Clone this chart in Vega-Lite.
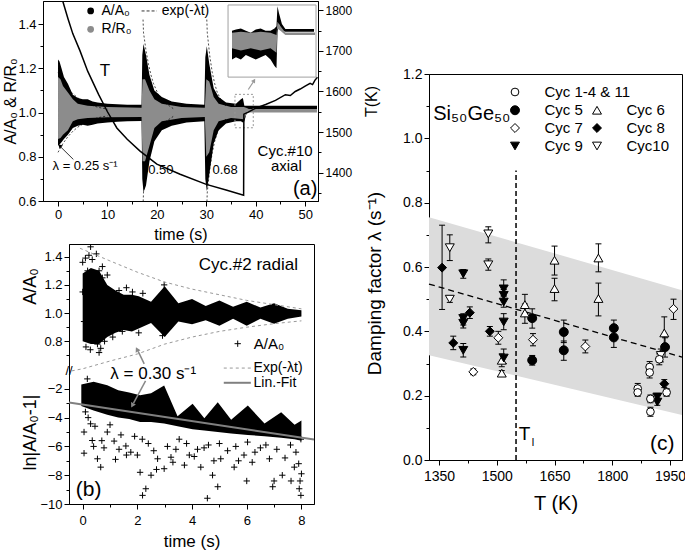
{
"$schema": "https://vega.github.io/schema/vega-lite/v6.json",
"padding": {"left": 1, "top": 0, "right": 0, "bottom": 0},
"background": "white",
"config": {
  "font": "Liberation Sans",
  "view": {"stroke": "black", "strokeWidth": 1},
  "axis": {"grid": false, "domainColor": "black", "tickColor": "black", "labelColor": "black", "titleColor": "black", "labelFont": "Liberation Sans", "titleFont": "Liberation Sans", "titleFontWeight": "normal", "labelFontSize": 13, "titleFontSize": 16, "tickSize": 4, "labelPadding": 2, "labelFlush": false, "labelOverlap": false, "domainWidth": 1, "tickWidth": 1},
  "legend": {"labelFont": "Liberation Sans"},
  "text": {"font": "Liberation Sans"}
},
"datasets": {
  "a_black": [
    {"t":0,"lo":0.85,"hi":1.24},{"t":0.3,"lo":0.855,"hi":1.23},{"t":0.7,"lo":0.865,"hi":1.2},{"t":1.2,"lo":0.88,"hi":1.16},{"t":2,"lo":0.9,"hi":1.13},{"t":3,"lo":0.93,"hi":1.08},{"t":4,"lo":0.94,"hi":1.065},{"t":5,"lo":0.945,"hi":1.06},{"t":6,"lo":0.94,"hi":1.06},{"t":7,"lo":0.945,"hi":1.05},{"t":8,"lo":0.95,"hi":1.045},{"t":10,"lo":0.955,"hi":1.04},{"t":12,"lo":0.958,"hi":1.037},{"t":14,"lo":0.96,"hi":1.035},{"t":16.9,"lo":0.962,"hi":1.035},
    {"t":17.05,"lo":0.7,"hi":1.26},{"t":17.3,"lo":0.64,"hi":1.31},{"t":17.8,"lo":0.67,"hi":1.26},{"t":18.5,"lo":0.78,"hi":1.17},{"t":19.5,"lo":0.87,"hi":1.1},{"t":21,"lo":0.92,"hi":1.07},{"t":23,"lo":0.94,"hi":1.05},{"t":26,"lo":0.955,"hi":1.04},{"t":29.6,"lo":0.96,"hi":1.035},
    {"t":29.8,"lo":0.7,"hi":1.25},{"t":30.1,"lo":0.645,"hi":1.3},{"t":30.6,"lo":0.72,"hi":1.22},{"t":31.5,"lo":0.86,"hi":1.11},{"t":32.5,"lo":0.92,"hi":1.07},{"t":34,"lo":0.95,"hi":1.045},{"t":36,"lo":0.96,"hi":1.04},{"t":37,"lo":0.96,"hi":1.06},{"t":37.4,"lo":0.955,"hi":1.065},{"t":37.7,"lo":0.96,"hi":1.03},{"t":38.2,"lo":1.0,"hi":1.03},{"t":38.6,"lo":1.015,"hi":1.03},{"t":52.4,"lo":1.015,"hi":1.03}
  ],
  "a_gray": [
    {"t":0,"lo":0.88,"hi":1.16},{"t":0.5,"lo":0.885,"hi":1.15},{"t":1,"lo":0.9,"hi":1.12},{"t":2,"lo":0.92,"hi":1.09},{"t":3,"lo":0.96,"hi":1.06},{"t":4,"lo":0.97,"hi":1.04},{"t":6,"lo":0.975,"hi":1.03},{"t":10,"lo":0.978,"hi":1.025},{"t":16.9,"lo":0.98,"hi":1.022},
    {"t":17.1,"lo":0.78,"hi":1.15},{"t":17.6,"lo":0.78,"hi":1.15},{"t":18.5,"lo":0.85,"hi":1.1},{"t":19.5,"lo":0.93,"hi":1.06},{"t":21,"lo":0.96,"hi":1.04},{"t":25,"lo":0.975,"hi":1.025},{"t":29.7,"lo":0.98,"hi":1.022},
    {"t":30,"lo":0.8,"hi":1.15},{"t":30.6,"lo":0.82,"hi":1.14},{"t":31.5,"lo":0.92,"hi":1.07},{"t":32.5,"lo":0.96,"hi":1.04},{"t":35,"lo":0.975,"hi":1.025},{"t":37.6,"lo":0.97,"hi":1.025},{"t":38.2,"lo":0.995,"hi":1.02},{"t":38.6,"lo":1.0,"hi":1.016},{"t":52.4,"lo":1.0,"hi":1.016}
  ],
  "a_exp": [
    {"seg":"1u","t":0,"v":1.18},{"seg":"1u","t":1,"v":1.14},{"seg":"1u","t":2,"v":1.109},{"seg":"1u","t":3,"v":1.085},{"seg":"1u","t":4,"v":1.066},{"seg":"1u","t":6,"v":1.04},{"seg":"1u","t":8,"v":1.024},{"seg":"1u","t":10,"v":1.015},
    {"seg":"1l","t":0,"v":0.82},{"seg":"1l","t":1,"v":0.86},{"seg":"1l","t":2,"v":0.891},{"seg":"1l","t":3,"v":0.915},{"seg":"1l","t":4,"v":0.934},{"seg":"1l","t":6,"v":0.96},{"seg":"1l","t":8,"v":0.976},{"seg":"1l","t":10,"v":0.985},
    {"seg":"2u","t":17.2,"v":1.42},{"seg":"2u","t":17.3,"v":1.36},{"seg":"2u","t":17.8,"v":1.28},{"seg":"2u","t":18.3,"v":1.218},{"seg":"2u","t":18.8,"v":1.17},{"seg":"2u","t":19.3,"v":1.132},{"seg":"2u","t":20.3,"v":1.08},{"seg":"2u","t":21.3,"v":1.049},{"seg":"2u","t":23.3,"v":1.018},
    {"seg":"2l","t":17.2,"v":0.58},{"seg":"2l","t":17.3,"v":0.64},{"seg":"2l","t":17.8,"v":0.72},{"seg":"2l","t":18.3,"v":0.782},{"seg":"2l","t":18.8,"v":0.83},{"seg":"2l","t":19.3,"v":0.868},{"seg":"2l","t":20.3,"v":0.92},{"seg":"2l","t":21.3,"v":0.951},{"seg":"2l","t":23.3,"v":0.982},
    {"seg":"3u","t":30.1,"v":1.42},{"seg":"3u","t":30.2,"v":1.36},{"seg":"3u","t":30.7,"v":1.256},{"seg":"3u","t":31.2,"v":1.182},{"seg":"3u","t":31.7,"v":1.13},{"seg":"3u","t":32.2,"v":1.092},{"seg":"3u","t":33.2,"v":1.047},{"seg":"3u","t":34.2,"v":1.024},
    {"seg":"3l","t":30.1,"v":0.58},{"seg":"3l","t":30.2,"v":0.64},{"seg":"3l","t":30.7,"v":0.744},{"seg":"3l","t":31.2,"v":0.818},{"seg":"3l","t":31.7,"v":0.87},{"seg":"3l","t":32.2,"v":0.908},{"seg":"3l","t":33.2,"v":0.953},{"seg":"3l","t":34.2,"v":0.976}
  ],
  "a_T": [
    {"t":0,"T":1850},{"t":0.95,"T":1823},{"t":2,"T":1780},{"t":3,"T":1742},{"t":4.45,"T":1700},{"t":6,"T":1650},{"t":8.2,"T":1593},{"t":10,"T":1550},{"t":11.9,"T":1510},{"t":14,"T":1482},{"t":16.6,"T":1453},{"t":20,"T":1421},{"t":24.7,"T":1396},{"t":30,"T":1371},{"t":34,"T":1357},{"t":37.55,"T":1344},{"t":37.6,"T":1544},{"t":38.5,"T":1549},{"t":40,"T":1559},{"t":42,"T":1568},{"t":44,"T":1578},{"t":46,"T":1592},{"t":47,"T":1590},{"t":48,"T":1600},{"t":49,"T":1606},{"t":50,"T":1613},{"t":51,"T":1620},{"t":51.5,"T":1617},{"t":52,"T":1628},{"t":52.5,"T":1635}
  ],
  "a_inB": [
    {"t":35.2,"lo":1.24,"hi":1.37},{"t":36,"lo":1.25,"hi":1.375},{"t":37,"lo":1.24,"hi":1.38},{"t":38,"lo":1.26,"hi":1.37},{"t":39,"lo":1.25,"hi":1.36},{"t":40,"lo":1.24,"hi":1.375},{"t":41,"lo":1.25,"hi":1.38},{"t":42,"lo":1.26,"hi":1.37},{"t":43,"lo":1.24,"hi":1.37},{"t":43.8,"lo":1.21,"hi":1.38},{"t":44.2,"lo":1.2,"hi":1.39},{"t":44.4,"lo":1.36,"hi":1.48},{"t":44.7,"lo":1.4,"hi":1.45},{"t":45.3,"lo":1.37,"hi":1.4},{"t":46,"lo":1.365,"hi":1.378},{"t":51.8,"lo":1.365,"hi":1.378}
  ],
  "a_inG": [
    {"t":35.2,"lo":1.29,"hi":1.36},{"t":37,"lo":1.28,"hi":1.365},{"t":39,"lo":1.29,"hi":1.36},{"t":41,"lo":1.28,"hi":1.365},{"t":43,"lo":1.29,"hi":1.36},{"t":44.2,"lo":1.27,"hi":1.35},{"t":44.4,"lo":1.38,"hi":1.41},{"t":45,"lo":1.37,"hi":1.39},{"t":46,"lo":1.35,"hi":1.362},{"t":52,"lo":1.35,"hi":1.362}
  ],
  "b_up_band": [
    {"t":0.0,"lo":0.8,"hi":1.28},{"t":0.3,"lo":0.78,"hi":1.32},{"t":0.6,"lo":0.78,"hi":1.3},{"t":0.9,"lo":0.83,"hi":1.2},{"t":1.2,"lo":0.86,"hi":1.16},{"t":1.5,"lo":0.88,"hi":1.13},{"t":1.8,"lo":0.87,"hi":1.13},{"t":2.05,"lo":0.89,"hi":1.12},{"t":2.5,"lo":0.93,"hi":1.08},{"t":3.0,"lo":0.83,"hi":1.19},{"t":3.5,"lo":0.94,"hi":1.07},{"t":4.0,"lo":0.92,"hi":1.1},{"t":4.5,"lo":0.95,"hi":1.05},{"t":5.0,"lo":0.91,"hi":1.09},{"t":5.5,"lo":0.96,"hi":1.045},{"t":6.0,"lo":0.91,"hi":1.08},{"t":6.5,"lo":0.96,"hi":1.04},{"t":7.0,"lo":0.925,"hi":1.07},{"t":7.5,"lo":0.96,"hi":1.03},{"t":8.0,"lo":0.975,"hi":1.02}
  ],
  "b_up_pts": [
    {"t":0.29,"v":1.47},{"t":0.23,"v":1.41},{"t":0.0,"v":1.36},{"t":0.18,"v":1.3},{"t":0.72,"v":1.33},{"t":0.72,"v":1.25},{"t":0.47,"v":1.2},{"t":0.0,"v":1.15},{"t":0.05,"v":0.94},{"t":0.18,"v":0.86},{"t":0.37,"v":0.82},{"t":0.66,"v":0.75},{"t":0.54,"v":0.78},{"t":0.42,"v":0.96},{"t":1.03,"v":1.1},{"t":0.9,"v":0.89},{"t":1.33,"v":1.16},{"t":1.45,"v":0.87},{"t":1.82,"v":1.15},{"t":2.98,"v":1.2},{"t":2.92,"v":0.84},{"t":0.1,"v":1.39},{"t":0.35,"v":1.38},{"t":0.6,"v":1.3},{"t":0.12,"v":0.76},{"t":0.28,"v":0.74},{"t":0.6,"v":0.72},{"t":0.8,"v":0.8},{"t":1.1,"v":0.83},{"t":1.6,"v":1.18},{"t":2.2,"v":1.14},{"t":2.05,"v":0.86},{"t":0.5,"v":1.42},{"t":0.9,"v":1.27}
  ],
  "b_up_exp": [
    {"seg":"u","t":-0.1,"v":1.46},{"seg":"u","t":1,"v":1.37},{"seg":"u","t":2,"v":1.29},{"seg":"u","t":3,"v":1.22},{"seg":"u","t":4,"v":1.17},{"seg":"u","t":5,"v":1.13},{"seg":"u","t":6,"v":1.09},{"seg":"u","t":7,"v":1.06},{"seg":"u","t":8,"v":1.03},
    {"seg":"l","t":-0.4,"v":0.59},{"seg":"l","t":0,"v":0.605},{"seg":"l","t":1,"v":0.66},{"seg":"l","t":2,"v":0.71},{"seg":"l","t":3,"v":0.78},{"seg":"l","t":4,"v":0.83},{"seg":"l","t":5,"v":0.87},{"seg":"l","t":6,"v":0.9},{"seg":"l","t":7,"v":0.925},{"seg":"l","t":8,"v":0.945}
  ],
  "b_lo_band": [
    {"t":-0.05,"lo":-3.2,"hi":-1.7},{"t":0.4,"lo":-3.5,"hi":-1.5},{"t":0.9,"lo":-3.8,"hi":-1.75},{"t":1.3,"lo":-4.0,"hi":-2.1},{"t":1.7,"lo":-4.1,"hi":-2.25},{"t":2.1,"lo":-4.3,"hi":-2.45},{"t":2.5,"lo":-4.3,"hi":-2.3},{"t":2.98,"lo":-4.4,"hi":-1.77},{"t":3.47,"lo":-4.6,"hi":-3.9},{"t":4.02,"lo":-4.8,"hi":-3.04},{"t":4.45,"lo":-4.9,"hi":-4.05},{"t":4.94,"lo":-5.0,"hi":-2.93},{"t":5.43,"lo":-5.1,"hi":-4.15},{"t":6.04,"lo":-5.2,"hi":-3.16},{"t":6.65,"lo":-5.3,"hi":-4.4},{"t":7.26,"lo":-5.4,"hi":-3.62},{"t":7.75,"lo":-5.5,"hi":-4.5},{"t":8.0,"lo":-5.6,"hi":-4.2}
  ],
  "b_lo_pts": [
    {"t":0.05,"v":-5.0},{"t":0.05,"v":-6.47},{"t":0.35,"v":-5.59},{"t":0.54,"v":-6.86},{"t":0.66,"v":-7.44},{"t":0.29,"v":-4.43},{"t":0.78,"v":-6.1},{"t":1.15,"v":-5.63},{"t":1.33,"v":-6.2},{"t":1.58,"v":-5.97},{"t":1.76,"v":-6.4},{"t":2.31,"v":-8.94},{"t":2.19,"v":-9.4},{"t":2.5,"v":-8.0},{"t":2.18,"v":-5.5},{"t":2.74,"v":-6.86},{"t":3.23,"v":-6.75},{"t":2.98,"v":-7.55},{"t":3.41,"v":-6.2},{"t":3.72,"v":-7.3},{"t":3.53,"v":-5.5},{"t":4.08,"v":-6.7},{"t":4.32,"v":-7.44},{"t":4.56,"v":-9.6},{"t":4.44,"v":-6.1},{"t":4.75,"v":-8.0},{"t":4.94,"v":-8.8},{"t":5.05,"v":-6.86},{"t":5.3,"v":-6.3},{"t":5.54,"v":-7.44},{"t":6.03,"v":-5.7},{"t":6.2,"v":-7.1},{"t":6.5,"v":-6.1},{"t":6.83,"v":-6.86},{"t":7.0,"v":-8.4},{"t":7.3,"v":-8.0},{"t":7.62,"v":-8.4},{"t":7.74,"v":-7.44},{"t":7.92,"v":-8.94},{"t":7.98,"v":-9.4},{"t":7.8,"v":-6.4},{"t":7.98,"v":-5.5},{"t":0.17,"v":-1.31},{"t":0.1,"v":-3.6},{"t":0.2,"v":-4.0},{"t":0.45,"v":-4.6},{"t":0.9,"v":-5.0},{"t":1.0,"v":-4.5},{"t":1.4,"v":-5.2},{"t":1.9,"v":-5.3},{"t":2.4,"v":-5.8},{"t":2.6,"v":-6.3},{"t":2.0,"v":-6.6},{"t":1.2,"v":-6.9},{"t":3.1,"v":-6.0},{"t":3.8,"v":-5.8},{"t":4.2,"v":-6.2},{"t":4.6,"v":-5.9},{"t":5.0,"v":-5.8},{"t":5.6,"v":-6.0},{"t":5.9,"v":-6.6},{"t":6.3,"v":-6.4},{"t":6.7,"v":-5.9},{"t":7.1,"v":-6.2},{"t":7.4,"v":-6.8},{"t":7.6,"v":-5.9},{"t":7.9,"v":-7.2},{"t":8.0,"v":-7.9},{"t":7.95,"v":-8.4},{"t":6.95,"v":-8.8},{"t":6.0,"v":-8.4},{"t":5.7,"v":-7.0},{"t":4.8,"v":-7.0},{"t":3.9,"v":-6.6},{"t":3.3,"v":-7.1},{"t":2.7,"v":-7.6},{"t":2.1,"v":-7.8},{"t":0.4,"v":-6.0},{"t":0.7,"v":-5.6},{"t":1.6,"v":-6.6}
  ],
  "b_fit": [{"t":-0.5,"v":-2.95},{"t":8.46,"v":-5.52}],
  "c_band": [{"T":1324,"top":0.755,"bot":0.326},{"T":1981,"top":0.528,"bot":0.14}],
  "c_fit": [{"T":1324,"v":0.547},{"T":1981,"v":0.32}],
  "c_pts": [
    {"cyc":"Cyc 1-4 & 11","T":1897,"lam":0.289,"lo":0.272,"hi":0.306},{"cyc":"Cyc 1-4 & 11","T":1897,"lam":0.272,"lo":0.255,"hi":0.29},{"cyc":"Cyc 1-4 & 11","T":1866,"lam":0.222,"lo":0.205,"hi":0.238},{"cyc":"Cyc 1-4 & 11","T":1866,"lam":0.21,"lo":0.198,"hi":0.222},{"cyc":"Cyc 1-4 & 11","T":1899,"lam":0.19,"lo":0.178,"hi":0.202},{"cyc":"Cyc 1-4 & 11","T":1899,"lam":0.15,"lo":0.136,"hi":0.164},{"cyc":"Cyc 1-4 & 11","T":1941,"lam":0.21,"lo":0.198,"hi":0.222},{"cyc":"Cyc 1-4 & 11","T":1922,"lam":0.313,"lo":0.296,"hi":0.33},
    {"cyc":"Cyc 5","T":1592,"lam":0.441,"lo":0.41,"hi":0.47},{"cyc":"Cyc 5","T":1592,"lam":0.31,"lo":0.295,"hi":0.325},{"cyc":"Cyc 5","T":1674,"lam":0.398,"lo":0.365,"hi":0.435},{"cyc":"Cyc 5","T":1674,"lam":0.341,"lo":0.31,"hi":0.37},{"cyc":"Cyc 5","T":1804,"lam":0.41,"lo":0.385,"hi":0.435},{"cyc":"Cyc 5","T":1804,"lam":0.381,"lo":0.35,"hi":0.41},{"cyc":"Cyc 5","T":1937,"lam":0.351,"lo":0.32,"hi":0.38},
    {"cyc":"Cyc 6","T":1513,"lam":0.31,"lo":0.29,"hi":0.33},{"cyc":"Cyc 6","T":1513,"lam":0.27,"lo":0.262,"hi":0.278},{"cyc":"Cyc 6","T":1573,"lam":0.483,"lo":0.455,"hi":0.515},{"cyc":"Cyc 6","T":1573,"lam":0.457,"lo":0.425,"hi":0.485},{"cyc":"Cyc 6","T":1650,"lam":0.621,"lo":0.575,"hi":0.665},{"cyc":"Cyc 6","T":1650,"lam":0.533,"lo":0.495,"hi":0.565},{"cyc":"Cyc 6","T":1764,"lam":0.628,"lo":0.585,"hi":0.672},{"cyc":"Cyc 6","T":1764,"lam":0.502,"lo":0.448,"hi":0.55},{"cyc":"Cyc 6","T":1935,"lam":0.395,"lo":0.34,"hi":0.445},
    {"cyc":"Cyc 7","T":1439,"lam":0.274,"lo":0.265,"hi":0.283},{"cyc":"Cyc 7","T":1504,"lam":0.38,"lo":0.36,"hi":0.4},{"cyc":"Cyc 7","T":1594,"lam":0.374,"lo":0.355,"hi":0.393},{"cyc":"Cyc 7","T":1730,"lam":0.353,"lo":0.333,"hi":0.373},{"cyc":"Cyc 7","T":1959,"lam":0.47,"lo":0.437,"hi":0.5},
    {"cyc":"Cyc 8","T":1358,"lam":0.598,"lo":0.468,"hi":0.73},{"cyc":"Cyc 8","T":1387,"lam":0.364,"lo":0.343,"hi":0.385},{"cyc":"Cyc 8","T":1430,"lam":0.458,"lo":0.44,"hi":0.476},{"cyc":"Cyc 8","T":1482,"lam":0.4,"lo":0.385,"hi":0.415},{"cyc":"Cyc 8","T":1935,"lam":0.237,"lo":0.225,"hi":0.25},
    {"cyc":"Cyc 9","T":1413,"lam":0.579,"lo":0.565,"hi":0.592},{"cyc":"Cyc 9","T":1413,"lam":0.44,"lo":0.42,"hi":0.455},{"cyc":"Cyc 9","T":1413,"lam":0.425,"lo":0.41,"hi":0.44},{"cyc":"Cyc 9","T":1413,"lam":0.341,"lo":0.32,"hi":0.362},{"cyc":"Cyc 9","T":1518,"lam":0.532,"lo":0.51,"hi":0.56},{"cyc":"Cyc 9","T":1518,"lam":0.512,"lo":0.5,"hi":0.53},{"cyc":"Cyc 9","T":1518,"lam":0.491,"lo":0.475,"hi":0.51},{"cyc":"Cyc 9","T":1518,"lam":0.429,"lo":0.405,"hi":0.455},{"cyc":"Cyc 9","T":1518,"lam":0.317,"lo":0.3,"hi":0.345},{"cyc":"Cyc 9","T":1917,"lam":0.196,"lo":0.185,"hi":0.207},{"cyc":"Cyc 9","T":1917,"lam":0.18,"lo":0.17,"hi":0.19},
    {"cyc":"Cyc10","T":1378,"lam":0.66,"lo":0.62,"hi":0.7},{"cyc":"Cyc10","T":1378,"lam":0.5,"lo":0.49,"hi":0.51},{"cyc":"Cyc10","T":1478,"lam":0.703,"lo":0.675,"hi":0.725},{"cyc":"Cyc10","T":1478,"lam":0.607,"lo":0.59,"hi":0.625},{"cyc":"Cyc10","T":1926,"lam":0.325,"lo":0.305,"hi":0.345}
  ]
},
"align": "none",
"spacing": -16,
"hconcat": [
 {"align": "none", "spacing": 0, "vconcat": [
  {
   "width": 275, "height": 200,
   "layer": [
    {"layer": [
      {"data": {"name": "a_black"}, "mark": {"type": "area", "color": "black"}, "encoding": {
        "x": {"field": "t", "type": "quantitative", "scale": {"domain": [-3.04, 52.6], "nice": false, "zero": false}, "axis": {"values": [0,5,10,15,20,25,30,35,40,45,50], "tickCount": 100, "format": "d", "labelExpr": "datum.value % 10 == 0 ? datum.label : ''", "tickSize": {"condition": {"test": "datum.value % 10 == 0", "value": 5}, "value": 3}, "title": "time (s)", "titlePadding": 5}},
        "y": {"field": "lo", "type": "quantitative", "scale": {"domain": [0.6, 1.504], "nice": false, "zero": false}, "axis": {"values": [0.6,0.7,0.8,0.9,1.0,1.1,1.2,1.3,1.4], "tickCount": 100, "labelExpr": "round(datum.value*10) % 2 == 0 ? format(datum.value, '.1f') : ''", "tickSize": {"condition": {"test": "round(datum.value*10) % 2 == 0", "value": 5}, "value": 3}, "title": "A/A₀ & R/R₀", "minExtent": 22, "maxExtent": 22, "titlePadding": 3}},
        "y2": {"field": "hi"}}},
      {"data": {"name": "a_gray"}, "mark": {"type": "area", "color": "#8c8c8c"}, "encoding": {"x": {"field": "t", "type": "quantitative"}, "y": {"field": "lo", "type": "quantitative"}, "y2": {"field": "hi"}}},
      {"data": {"name": "a_exp"}, "mark": {"type": "line", "color": "black", "strokeWidth": 0.7, "strokeDash": [2, 2], "clip": true}, "encoding": {"x": {"field": "t", "type": "quantitative"}, "y": {"field": "v", "type": "quantitative"}, "detail": {"field": "seg", "type": "nominal"}}},
      {"data": {"values": [{}]}, "mark": {"type": "rect", "fill": "white", "stroke": "#a0a0a0", "strokeWidth": 1}, "encoding": {"x": {"datum": 34.4, "type": "quantitative"}, "x2": {"datum": 52.2}, "y": {"datum": 1.16, "type": "quantitative"}, "y2": {"datum": 1.486}}},
      {"data": {"name": "a_inB"}, "mark": {"type": "area", "color": "black"}, "encoding": {"x": {"field": "t", "type": "quantitative"}, "y": {"field": "lo", "type": "quantitative"}, "y2": {"field": "hi"}}},
      {"data": {"name": "a_inG"}, "mark": {"type": "area", "color": "#8c8c8c"}, "encoding": {"x": {"field": "t", "type": "quantitative"}, "y": {"field": "lo", "type": "quantitative"}, "y2": {"field": "hi"}}},
      {"data": {"values": [{}]}, "mark": {"type": "rect", "fillOpacity": 0, "stroke": "#999999", "strokeDash": [2, 2], "strokeWidth": 1}, "encoding": {"x": {"datum": 35.8, "type": "quantitative"}, "x2": {"datum": 39.5}, "y": {"datum": 0.931, "type": "quantitative"}, "y2": {"datum": 1.082}}},
      {"data": {"values": [{}]}, "mark": {"type": "rule", "color": "black", "strokeWidth": 0.8}, "encoding": {"x": {"datum": 3.1, "type": "quantitative"}, "x2": {"datum": 0.6}, "y": {"datum": 0.788, "type": "quantitative"}, "y2": {"datum": 0.843}}},
      {"data": {"values": [{}]}, "mark": {"type": "point", "shape": "triangle", "filled": true, "color": "black", "size": 22, "angle": 315, "opacity": 1}, "encoding": {"x": {"datum": 0.45, "type": "quantitative"}, "y": {"datum": 0.848, "type": "quantitative"}}},
      {"data": {"values": [{}]}, "mark": {"type": "rule", "color": "#999999", "strokeWidth": 1.2}, "encoding": {"x": {"datum": 38.5, "type": "quantitative"}, "x2": {"datum": 39.5}, "y": {"datum": 1.104, "type": "quantitative"}, "y2": {"datum": 1.138}}},
      {"data": {"values": [{}]}, "mark": {"type": "point", "shape": "triangle", "filled": true, "color": "#999999", "size": 22, "angle": 33, "opacity": 1}, "encoding": {"x": {"datum": 39.6, "type": "quantitative"}, "y": {"datum": 1.142, "type": "quantitative"}}},
      {"data": {"values": [{}]}, "mark": {"type": "point", "shape": "circle", "filled": true, "color": "black", "size": 45, "opacity": 1}, "encoding": {"x": {"datum": 6.6, "type": "quantitative"}, "y": {"datum": 1.459, "type": "quantitative"}}},
      {"data": {"values": [{}]}, "mark": {"type": "point", "shape": "circle", "filled": true, "color": "#8c8c8c", "size": 45, "opacity": 1}, "encoding": {"x": {"datum": 6.6, "type": "quantitative"}, "y": {"datum": 1.376, "type": "quantitative"}}},
      {"data": {"values": [{}]}, "mark": {"type": "rule", "color": "black", "strokeWidth": 0.8, "strokeDash": [3, 2]}, "encoding": {"x": {"datum": 16.9, "type": "quantitative"}, "x2": {"datum": 20}, "y": {"datum": 1.459, "type": "quantitative"}}},
      {"data": {"values": [{}]}, "mark": {"type": "text", "text": "A/A₀", "fontSize": 14, "align": "left", "baseline": "middle"}, "encoding": {"x": {"datum": 8.8, "type": "quantitative"}, "y": {"datum": 1.459, "type": "quantitative"}}},
      {"data": {"values": [{}]}, "mark": {"type": "text", "text": "exp(-λt)", "fontSize": 14, "align": "left", "baseline": "middle"}, "encoding": {"x": {"datum": 21, "type": "quantitative"}, "y": {"datum": 1.459, "type": "quantitative"}}},
      {"data": {"values": [{}]}, "mark": {"type": "text", "text": "R/R₀", "fontSize": 14, "align": "left", "baseline": "middle"}, "encoding": {"x": {"datum": 8.8, "type": "quantitative"}, "y": {"datum": 1.376, "type": "quantitative"}}},
      {"data": {"values": [{}]}, "mark": {"type": "text", "text": "T", "fontSize": 17, "align": "center", "baseline": "middle"}, "encoding": {"x": {"datum": 9.5, "type": "quantitative"}, "y": {"datum": 1.187, "type": "quantitative"}}},
      {"data": {"values": [{}]}, "mark": {"type": "text", "text": "λ = 0.25 s⁻¹", "fontSize": 13, "align": "center", "baseline": "middle"}, "encoding": {"x": {"datum": 5.47, "type": "quantitative"}, "y": {"datum": 0.757, "type": "quantitative"}}},
      {"data": {"values": [{}]}, "mark": {"type": "text", "text": "0.50", "fontSize": 13, "align": "center", "baseline": "middle"}, "encoding": {"x": {"datum": 20.8, "type": "quantitative"}, "y": {"datum": 0.74, "type": "quantitative"}}},
      {"data": {"values": [{}]}, "mark": {"type": "text", "text": "0.68", "fontSize": 13, "align": "center", "baseline": "middle"}, "encoding": {"x": {"datum": 33.8, "type": "quantitative"}, "y": {"datum": 0.74, "type": "quantitative"}}},
      {"data": {"values": [{}]}, "mark": {"type": "text", "text": "Cyc.#10", "fontSize": 15, "align": "center", "baseline": "middle"}, "encoding": {"x": {"datum": 45.95, "type": "quantitative"}, "y": {"datum": 0.825, "type": "quantitative"}}},
      {"data": {"values": [{}]}, "mark": {"type": "text", "text": "axial", "fontSize": 15, "align": "center", "baseline": "middle"}, "encoding": {"x": {"datum": 46.2, "type": "quantitative"}, "y": {"datum": 0.758, "type": "quantitative"}}},
      {"data": {"values": [{}]}, "mark": {"type": "text", "text": "(a)", "fontSize": 20, "align": "center", "baseline": "middle"}, "encoding": {"x": {"datum": 50, "type": "quantitative"}, "y": {"datum": 0.654, "type": "quantitative"}}}
    ]},
    {"data": {"name": "a_T"}, "mark": {"type": "line", "color": "black", "strokeWidth": 1.5, "clip": true}, "encoding": {
      "x": {"field": "t", "type": "quantitative"},
      "y": {"field": "T", "type": "quantitative", "scale": {"domain": [1330, 1823], "nice": false, "zero": false}, "axis": {"orient": "right", "values": [1350,1400,1450,1500,1550,1600,1650,1700,1750,1800], "tickCount": 100, "format": "d", "labelExpr": "datum.value % 100 == 0 ? datum.label : ''", "tickSize": {"condition": {"test": "datum.value % 100 == 0", "value": 5}, "value": 3}, "title": "T(K)", "titleAngle": 270, "titlePadding": 28, "labelFontSize": 12}}}}
   ],
   "resolve": {"scale": {"y": "independent"}}
  },
  {"align": "none", "spacing": -24, "hconcat": [
    {"width": 1, "height": 1, "data": {"values": [{}]}, "mark": {"type": "point", "opacity": 0, "size": 1}, "encoding": {}, "view": {"stroke": null}},
    {
     "width": 245, "height": 260,
     "layer": [
      {"layer": [
        {"data": {"name": "b_up_band"}, "mark": {"type": "area", "color": "black"}, "encoding": {
          "x": {"field": "t", "type": "quantitative", "scale": {"domain": [-0.5, 8.46], "nice": false, "zero": false}, "axis": {"values": [0,1,2,3,4,5,6,7,8], "tickCount": 100, "format": "d", "labelExpr": "datum.value % 2 == 0 ? datum.label : ''", "tickSize": {"condition": {"test": "datum.value % 2 == 0", "value": 5}, "value": 3}, "title": "time (s)", "titleFontSize": 17, "labelPadding": 5, "titlePadding": 6}},
          "y": {"field": "lo", "type": "quantitative", "scale": {"domain": [-0.354, 1.49], "nice": false, "zero": false}, "axis": {"orient": "left", "labels": false, "ticks": false, "domain": false, "title": "A/A₀", "titleFontSize": 18, "minExtent": 25, "maxExtent": 25, "titlePadding": 5, "titleY": 42}},
          "y2": {"field": "hi"}}},
        {"data": {"name": "b_up_pts"}, "mark": {"type": "point", "shape": "M-1,0L1,0M0,-1L0,1", "size": 40, "color": "black", "strokeWidth": 1, "filled": false, "opacity": 1, "clip": true}, "encoding": {"x": {"field": "t", "type": "quantitative"}, "y": {"field": "v", "type": "quantitative"}}},
        {"data": {"name": "b_up_exp"}, "mark": {"type": "line", "color": "#999999", "strokeDash": [3, 3], "strokeWidth": 1, "clip": true}, "encoding": {"x": {"field": "t", "type": "quantitative"}, "y": {"field": "v", "type": "quantitative"}, "detail": {"field": "seg", "type": "nominal"}}},
        {"data": {"values": [{}]}, "mark": {"type": "rule", "color": "#888888", "strokeWidth": 1.5}, "encoding": {"x": {"datum": 2.25, "type": "quantitative"}, "x2": {"datum": 2.03}, "y": {"datum": 0.64, "type": "quantitative"}, "y2": {"datum": 0.728}}},
        {"data": {"values": [{}]}, "mark": {"type": "point", "shape": "triangle", "filled": true, "color": "#888888", "size": 30, "angle": 333, "opacity": 1}, "encoding": {"x": {"datum": 2.0, "type": "quantitative"}, "y": {"datum": 0.737, "type": "quantitative"}}},
        {"data": {"values": [{}]}, "mark": {"type": "text", "text": "Cyc.#2  radial", "fontSize": 17, "align": "center", "baseline": "middle"}, "encoding": {"x": {"datum": 6.06, "type": "quantitative"}, "y": {"datum": 1.34, "type": "quantitative"}}},
        {"data": {"values": [{}]}, "mark": {"type": "point", "shape": "M-1,0L1,0M0,-1L0,1", "size": 40, "color": "black", "strokeWidth": 1, "filled": false, "opacity": 1}, "encoding": {"x": {"datum": 5.67, "type": "quantitative"}, "y": {"datum": 0.783, "type": "quantitative"}}},
        {"data": {"values": [{}]}, "mark": {"type": "text", "text": "A/A₀", "fontSize": 15, "align": "left", "baseline": "middle"}, "encoding": {"x": {"datum": 6.26, "type": "quantitative"}, "y": {"datum": 0.783, "type": "quantitative"}}},
        {"data": {"values": [{}]}, "mark": {"type": "rule", "color": "#999999", "strokeWidth": 1, "strokeDash": [3, 3]}, "encoding": {"x": {"datum": 5.16, "type": "quantitative"}, "x2": {"datum": 6.15}, "y": {"datum": 0.61, "type": "quantitative"}}},
        {"data": {"values": [{}]}, "mark": {"type": "text", "text": "Exp(-λt)", "fontSize": 14, "align": "left", "baseline": "middle"}, "encoding": {"x": {"datum": 6.25, "type": "quantitative"}, "y": {"datum": 0.61, "type": "quantitative"}}}
      ]},
      {"layer": [
        {"data": {"name": "b_lo_band"}, "mark": {"type": "area", "color": "black"}, "encoding": {
          "x": {"field": "t", "type": "quantitative"},
          "y": {"field": "lo", "type": "quantitative", "scale": {"domain": [-10, 8.06], "nice": false, "zero": false}, "axis": {"orient": "left", "values": [-10,-9,-8,-7,-6,-5,-4,-3,-2,0.32458,1.30375,2.28292,3.26208,4.24125,5.22042,6.19958,7.17875], "tickCount": 100, "labelExpr": "datum.value < -1 ? (datum.value % 2 == 0 ? format(datum.value, 'd') : '') : (abs(datum.value - 7.17875) < 0.01 ? '1.4' : abs(datum.value - 5.22042) < 0.01 ? '1.2' : abs(datum.value - 3.26208) < 0.01 ? '1.0' : abs(datum.value - 1.30375) < 0.01 ? '0.8' : '')", "tickSize": {"condition": {"test": "(datum.value < -1 && datum.value % 2 == 0) || abs(datum.value - 7.17875) < 0.01 || abs(datum.value - 5.22042) < 0.01 || abs(datum.value - 3.26208) < 0.01 || abs(datum.value - 1.30375) < 0.01", "value": 5}, "value": 3}, "title": "ln|A/A₀-1|", "titleFontSize": 18, "minExtent": 25, "maxExtent": 25, "titlePadding": 5, "titleY": 188}},
          "y2": {"field": "hi"}}},
        {"data": {"name": "b_lo_pts"}, "mark": {"type": "point", "shape": "M-1,0L1,0M0,-1L0,1", "size": 40, "color": "black", "strokeWidth": 1, "filled": false, "opacity": 1, "clip": true}, "encoding": {"x": {"field": "t", "type": "quantitative"}, "y": {"field": "v", "type": "quantitative"}}},
        {"data": {"name": "b_fit"}, "mark": {"type": "line", "color": "#808080", "strokeWidth": 2}, "encoding": {"x": {"field": "t", "type": "quantitative"}, "y": {"field": "v", "type": "quantitative"}}},
        {"data": {"values": [{}]}, "mark": {"type": "rule", "color": "#888888", "strokeWidth": 1.5}, "encoding": {"x": {"datum": 2.3, "type": "quantitative"}, "x2": {"datum": 1.86}, "y": {"datum": -1.45, "type": "quantitative"}, "y2": {"datum": -3.0}}},
        {"data": {"values": [{}]}, "mark": {"type": "point", "shape": "triangle", "filled": true, "color": "#888888", "size": 30, "angle": 208, "opacity": 1}, "encoding": {"x": {"datum": 1.83, "type": "quantitative"}, "y": {"datum": -3.1, "type": "quantitative"}}},
        {"data": {"values": [{}]}, "mark": {"type": "text", "text": "λ = 0.30 s⁻¹", "fontSize": 17, "align": "center", "baseline": "middle"}, "encoding": {"x": {"datum": 2.58, "type": "quantitative"}, "y": {"datum": -0.96, "type": "quantitative"}}},
        {"data": {"values": [{}]}, "mark": {"type": "rule", "color": "#808080", "strokeWidth": 2}, "encoding": {"x": {"datum": 5.16, "type": "quantitative"}, "x2": {"datum": 6.15}, "y": {"datum": -1.58, "type": "quantitative"}}},
        {"data": {"values": [{}]}, "mark": {"type": "text", "text": "Lin.-Fit", "fontSize": 14, "align": "left", "baseline": "middle"}, "encoding": {"x": {"datum": 6.25, "type": "quantitative"}, "y": {"datum": -1.58, "type": "quantitative"}}},
        {"data": {"values": [{}]}, "mark": {"type": "text", "text": "(b)", "fontSize": 21, "align": "center", "baseline": "middle"}, "encoding": {"x": {"datum": 0.22, "type": "quantitative"}, "y": {"datum": -9.0, "type": "quantitative"}}},
        {"data": {"values": [{}]}, "mark": {"type": "text", "text": "//", "fontSize": 13, "align": "center", "baseline": "middle"}, "encoding": {"x": {"datum": -0.5, "type": "quantitative"}, "y": {"datum": -0.75, "type": "quantitative"}}}
      ]}
     ],
     "resolve": {"scale": {"y": "independent"}}
    }
  ]}
 ]},
 {"align": "none", "spacing": 64, "vconcat": [
  {"width": 1, "height": 1, "data": {"values": [{}]}, "mark": {"type": "point", "opacity": 0, "size": 1}, "encoding": {}, "view": {"stroke": null}},
  {
   "width": 253, "height": 386,
   "layer": [
    {"data": {"name": "c_band"}, "mark": {"type": "area", "color": "#dcdcdc"}, "encoding": {
      "x": {"field": "T", "type": "quantitative", "scale": {"domain": [1324, 1981], "nice": false, "zero": false}, "axis": {"values": [1350,1425,1500,1575,1650,1725,1800,1875,1950], "tickCount": 100, "format": "d", "labelExpr": "(datum.value - 1350) % 150 == 0 ? datum.label : ''", "tickSize": {"condition": {"test": "(datum.value - 1350) % 150 == 0", "value": 5}, "value": 3}, "title": "T (K)", "titleFontSize": 20, "labelFontSize": 14, "labelPadding": 4, "titlePadding": 10}},
      "y": {"field": "top", "type": "quantitative", "scale": {"domain": [0, 1.2], "nice": false, "zero": false}, "axis": {"values": [0,0.1,0.2,0.3,0.4,0.5,0.6,0.7,0.8,0.9,1.0,1.1,1.2], "tickCount": 100, "labelExpr": "round(datum.value*10) % 2 == 0 ? format(datum.value, '.1f') : ''", "tickSize": {"condition": {"test": "round(datum.value*10) % 2 == 0", "value": 5}, "value": 3}, "title": "Damping factor  λ (s⁻¹)", "titleFontSize": 19, "labelFontSize": 14, "titlePadding": 18, "titleY": 209}},
      "y2": {"field": "bot"}}},
    {"data": {"name": "c_fit"}, "mark": {"type": "line", "color": "black", "strokeDash": [6, 4], "strokeWidth": 1.3}, "encoding": {"x": {"field": "T", "type": "quantitative"}, "y": {"field": "v", "type": "quantitative"}}},
    {"data": {"values": [{}]}, "mark": {"type": "rule", "color": "black", "strokeDash": [5, 3], "strokeWidth": 1.5}, "encoding": {"x": {"datum": 1550, "type": "quantitative"}, "y": {"datum": 0, "type": "quantitative"}, "y2": {"datum": 0.9}}},
    {"data": {"name": "c_pts"}, "mark": {"type": "rule", "color": "black", "strokeWidth": 1}, "encoding": {"x": {"field": "T", "type": "quantitative"}, "y": {"field": "lo", "type": "quantitative"}, "y2": {"field": "hi"}}},
    {"data": {"name": "c_pts"}, "mark": {"type": "tick", "orient": "horizontal", "size": 6, "thickness": 1, "color": "black", "opacity": 1}, "encoding": {"x": {"field": "T", "type": "quantitative"}, "y": {"field": "lo", "type": "quantitative"}}},
    {"data": {"name": "c_pts"}, "mark": {"type": "tick", "orient": "horizontal", "size": 6, "thickness": 1, "color": "black", "opacity": 1}, "encoding": {"x": {"field": "T", "type": "quantitative"}, "y": {"field": "hi", "type": "quantitative"}}},
    {"data": {"name": "c_pts"}, "transform": [{"filter": "datum.cyc != 'Cyc 1-4 & 11'"}], "mark": {"type": "point", "size": 80, "strokeWidth": 1, "opacity": 1}, "encoding": {
      "x": {"field": "T", "type": "quantitative"},
      "y": {"field": "lam", "type": "quantitative"},
      "shape": {"field": "cyc", "type": "nominal", "scale": {"domain": ["Cyc 5","Cyc 7","Cyc 9","Cyc 6","Cyc 8","Cyc10"], "range": ["circle","diamond","triangle-down","triangle-up","diamond","triangle-down"]}, "legend": {"title": null, "orient": "none", "legendX": 78.5, "legendY": 28.5, "columns": 2, "symbolSize": 80, "labelFontSize": 15, "labelOffset": 22, "columnPadding": 6, "rowPadding": 2, "symbolStrokeWidth": 1, "symbolOpacity": 1, "padding": 0}},
      "fill": {"field": "cyc", "type": "nominal", "scale": {"domain": ["Cyc 5","Cyc 7","Cyc 9","Cyc 6","Cyc 8","Cyc10"], "range": ["black","white","black","white","black","white"]}, "legend": {"title": null, "orient": "none", "legendX": 78.5, "legendY": 28.5, "columns": 2, "symbolSize": 80, "labelFontSize": 15, "labelOffset": 22, "columnPadding": 6, "rowPadding": 2, "symbolStrokeWidth": 1, "symbolOpacity": 1, "padding": 0}},
      "stroke": {"field": "cyc", "type": "nominal", "scale": {"domain": ["Cyc 5","Cyc 7","Cyc 9","Cyc 6","Cyc 8","Cyc10"], "range": ["black","black","black","black","black","black"]}, "legend": {"title": null, "orient": "none", "legendX": 78.5, "legendY": 28.5, "columns": 2, "symbolSize": 80, "labelFontSize": 15, "labelOffset": 22, "columnPadding": 6, "rowPadding": 2, "symbolStrokeWidth": 1, "symbolOpacity": 1, "padding": 0}}}},
    {"data": {"name": "c_pts"}, "transform": [{"filter": "datum.cyc == 'Cyc 1-4 & 11'"}], "mark": {"type": "point", "size": 60, "strokeWidth": 1, "opacity": 1}, "encoding": {
      "x": {"field": "T", "type": "quantitative"},
      "y": {"field": "lam", "type": "quantitative"},
      "shape": {"field": "cyc", "type": "nominal", "scale": {"domain": ["Cyc 1-4 & 11"], "range": ["circle"]}, "legend": {"title": null, "orient": "none", "legendX": 78.5, "legendY": 10.5, "symbolSize": 60, "labelFontSize": 15, "labelOffset": 22, "symbolStrokeWidth": 1, "symbolOpacity": 1, "padding": 0}},
      "fill": {"field": "cyc", "type": "nominal", "scale": {"domain": ["Cyc 1-4 & 11"], "range": ["white"]}, "legend": {"title": null, "orient": "none", "legendX": 78.5, "legendY": 10.5, "symbolSize": 60, "labelFontSize": 15, "labelOffset": 22, "symbolStrokeWidth": 1, "symbolOpacity": 1, "padding": 0}},
      "stroke": {"field": "cyc", "type": "nominal", "scale": {"domain": ["Cyc 1-4 & 11"], "range": ["black"]}, "legend": {"title": null, "orient": "none", "legendX": 78.5, "legendY": 10.5, "symbolSize": 60, "labelFontSize": 15, "labelOffset": 22, "symbolStrokeWidth": 1, "symbolOpacity": 1, "padding": 0}}}},
    {"data": {"values": [{}]}, "mark": {"type": "text", "text": "Si₅₀Ge₅₀", "fontSize": 20, "align": "left", "baseline": "middle"}, "encoding": {"x": {"datum": 1335, "type": "quantitative"}, "y": {"datum": 1.075, "type": "quantitative"}}},
    {"data": {"values": [{}]}, "mark": {"type": "text", "text": "T", "fontSize": 19, "align": "left", "baseline": "middle"}, "encoding": {"x": {"datum": 1557, "type": "quantitative"}, "y": {"datum": 0.08, "type": "quantitative"}}},
    {"data": {"values": [{}]}, "mark": {"type": "text", "text": "l", "fontSize": 11, "align": "left", "baseline": "middle"}, "encoding": {"x": {"datum": 1591, "type": "quantitative"}, "y": {"datum": 0.053, "type": "quantitative"}}},
    {"data": {"values": [{}]}, "mark": {"type": "text", "text": "(c)", "fontSize": 21, "align": "center", "baseline": "middle"}, "encoding": {"x": {"datum": 1930, "type": "quantitative"}, "y": {"datum": 0.05, "type": "quantitative"}}}
   ],
   "resolve": {"scale": {"shape": "independent", "fill": "independent", "stroke": "independent"}}
  }
 ]}
]
}
